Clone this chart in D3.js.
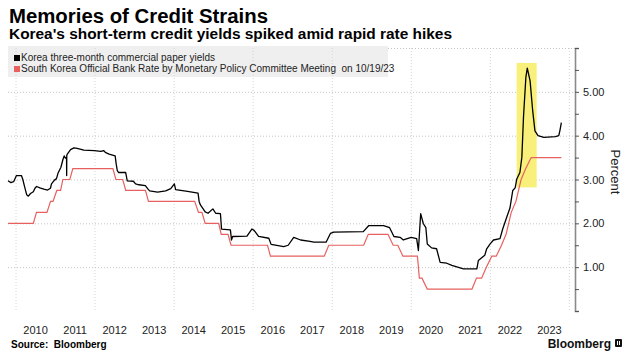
<!DOCTYPE html>
<html>
<head>
<meta charset="utf-8">
<script src="https://cdn.jsdelivr.net/npm/d3@7"></script>
<style>
	body { margin: 0; background: #fff; }
	svg { display: block; }
</style>
</head>
<body>
<div id="chart"></div>
<script>
// Korea three-month commercial paper yields (%)
var cpDates = [
	"2009-10-19", "2009-11-15", "2009-12-10", "2010-01-05", "2010-02-20", "2010-03-05",
	"2010-03-20", "2010-04-10", "2010-04-25", "2010-05-15", "2010-06-10", "2010-06-25",
	"2010-07-10", "2010-08-10", "2010-09-15", "2010-10-20", "2010-11-15", "2010-11-25",
	"2010-12-20", "2011-01-10", "2011-01-25", "2011-02-20", "2011-03-10", "2011-03-22",
	"2011-04-01", "2011-04-13", "2011-04-14", "2011-04-15", "2011-04-20", "2011-05-20",
	"2011-06-20", "2011-07-20", "2011-09-20", "2011-12-25", "2012-02-25", "2012-03-20",
	"2012-04-05", "2012-05-10", "2012-07-05", "2012-07-15", "2012-07-25", "2012-08-05",
	"2012-10-10", "2012-10-25", "2012-12-20", "2013-01-10", "2013-02-10", "2013-04-10",
	"2013-05-05", "2013-05-20", "2013-08-01", "2013-10-15", "2013-12-01", "2014-01-03",
	"2014-01-15", "2014-05-05", "2014-08-10", "2014-08-20", "2014-09-01", "2014-10-15",
	"2014-11-10", "2014-12-25", "2015-01-20", "2015-03-05", "2015-03-15", "2015-06-05",
	"2015-06-15", "2015-06-25", "2015-11-05", "2015-12-20", "2016-01-10", "2016-02-20",
	"2016-05-25", "2016-06-15", "2016-10-10", "2016-11-20", "2017-01-10", "2017-03-15",
	"2017-06-10", "2017-07-15", "2017-11-05", "2017-12-15", "2018-01-15", "2018-10-15",
	"2018-12-05", "2019-04-20", "2019-06-15", "2019-07-25", "2019-09-20", "2019-10-20",
	"2019-12-31", "2020-02-20", "2020-03-07", "2020-03-28", "2020-04-22", "2020-05-15",
	"2020-05-28", "2020-07-07", "2020-08-22", "2020-09-24", "2020-11-24", "2021-01-10",
	"2021-04-27", "2021-08-29", "2021-09-12", "2021-11-10", "2021-11-28", "2021-12-30",
	"2022-01-30", "2022-03-31", "2022-04-25", "2022-06-01", "2022-07-01", "2022-07-27",
	"2022-08-18", "2022-09-02", "2022-10-01", "2022-10-19", "2022-11-03", "2022-11-25",
	"2022-12-08", "2023-01-03", "2023-01-27", "2023-02-17", "2023-03-17", "2023-05-10",
	"2023-08-25", "2023-09-25", "2023-10-05", "2023-10-19"
];
var cpYields = [
	2.97, 2.93, 2.95, 3.09, 3.09, 3.00,
	2.85, 2.65, 2.62, 2.68, 2.72, 2.80,
	2.84, 2.81, 2.78, 2.76, 2.80, 2.90,
	2.98, 3.02, 3.15, 3.28, 3.45, 3.54,
	3.49, 3.50, 3.09, 3.55, 3.58, 3.68,
	3.72, 3.71, 3.67, 3.66, 3.64, 3.66,
	3.62, 3.58, 3.54, 3.35, 3.20, 3.16,
	3.16, 2.97, 2.96, 2.90, 2.88, 2.86,
	2.78, 2.74, 2.71, 2.74, 2.79, 2.90,
	2.77, 2.73, 2.69, 2.50, 2.42, 2.26,
	2.23, 2.33, 2.23, 2.22, 1.87, 1.85,
	1.62, 1.70, 1.71, 1.87, 1.84, 1.70,
	1.66, 1.52, 1.47, 1.50, 1.68, 1.62,
	1.59, 1.57, 1.57, 1.77, 1.80, 1.81,
	1.95, 1.95, 1.90, 1.70, 1.68, 1.62,
	1.68, 1.65, 1.38, 2.22, 1.99, 1.90,
	1.53, 1.44, 1.42, 1.11, 1.09, 1.04,
	0.96, 0.96, 1.15, 1.27, 1.42, 1.53,
	1.62, 1.65, 1.87, 2.14, 2.35, 2.75,
	2.81, 3.01, 3.16, 3.51, 4.42, 5.33,
	5.54, 5.25, 4.57, 4.11, 4.00, 3.96,
	3.98, 4.00, 4.11, 4.30
];

// Bank of Korea base rate (%), at MPC meetings
var rateDates = [
	"2009-10-19", "2010-06-10", "2010-07-09", "2010-10-14", "2010-11-16", "2010-12-09",
	"2011-01-13", "2011-02-17", "2011-03-10", "2011-05-13", "2011-06-10", "2012-06-14",
	"2012-07-12", "2012-09-13", "2012-10-11", "2013-04-11", "2013-05-09", "2014-07-10",
	"2014-08-14", "2014-09-15", "2014-10-15", "2015-02-17", "2015-03-12", "2015-05-14",
	"2015-06-11", "2016-05-13", "2016-06-09", "2017-10-19", "2017-11-30", "2018-10-18",
	"2018-11-30", "2019-05-31", "2019-07-18", "2019-08-30", "2019-10-16", "2020-02-27",
	"2020-03-16", "2020-04-09", "2020-05-28", "2021-07-15", "2021-08-26", "2021-10-12",
	"2021-11-25", "2022-01-14", "2022-02-24", "2022-04-14", "2022-05-26", "2022-07-13",
	"2022-08-25", "2022-10-12", "2022-11-24", "2023-01-13", "2023-10-19"
];
var rateValues = [
	2.00, 2.00, 2.25, 2.25, 2.50, 2.50,
	2.75, 2.75, 3.00, 3.00, 3.25, 3.25,
	3.00, 3.00, 2.75, 2.75, 2.50, 2.50,
	2.25, 2.25, 2.00, 2.00, 1.75, 1.75,
	1.50, 1.50, 1.25, 1.25, 1.50, 1.50,
	1.75, 1.75, 1.50, 1.50, 1.25, 1.25,
	0.75, 0.75, 0.50, 0.50, 0.75, 0.75,
	1.00, 1.25, 1.25, 1.50, 1.75, 2.25,
	2.50, 3.00, 3.25, 3.50, 3.50
];

var yearLabels = [2010, 2011, 2012, 2013, 2014, 2015, 2016, 2017, 2018, 2019, 2020, 2021, 2022, 2023];
var gridYears = [2010, 2012, 2014, 2016, 2018, 2020, 2022, 2024];
var yTicks = [1, 2, 3, 4, 5];
var highlightSpan = ["2022-09-01", "2023-03-05"];
var highlightRange = [2.82, 5.66];

var legendItems = [
	{ label: "Korea three-month commercial paper yields", color: "#000000" },
	{ label: "South Korea Official Bank Rate by Monetary Policy Committee Meeting  on 10/19/23", color: "#e8605f" }
];

var ctx = {
	width: 629,
	height: 361,
	left: 8,
	right: 575,
	top: 48,
	bottom: 311
};

var parseDate = d3.timeParse("%Y-%m-%d");
var cpData = cpDates.map((d, i) => ({ date: parseDate(d), value: cpYields[i] }));
var rateData = rateDates.map((d, i) => ({ date: parseDate(d), value: rateValues[i] }));

var svg = d3.select("#chart")
	.append("svg")
	.attr("width", ctx.width)
	.attr("height", ctx.height)
	.style("font-family", "'Liberation Sans', Arial, sans-serif");

var xscale = d3.scaleTime()
	.domain([parseDate("2009-10-19"), parseDate("2024-02-22")])
	.range([ctx.left, ctx.right]);
var yscale = d3.scaleLinear()
	.domain([0, 6])
	.range([ctx.bottom, ctx.top]);

// titles
svg.append("text")
	.attr("x", 9)
	.attr("y", 23)
	.style("font-size", "20px")
	.style("font-weight", "bold")
	.attr("fill", "#000")
	.attr("textLength", 259)
	.attr("lengthAdjust", "spacingAndGlyphs")
	.text("Memories of Credit Strains");

svg.append("text")
	.attr("x", 9)
	.attr("y", 39)
	.style("font-size", "14px")
	.style("font-weight", "bold")
	.attr("fill", "#000")
	.attr("textLength", 443)
	.attr("lengthAdjust", "spacingAndGlyphs")
	.text("Korea's short-term credit yields spiked amid rapid rate hikes");

// legend background
svg.append("rect")
	.attr("x", ctx.left)
	.attr("y", 46)
	.attr("width", 380)
	.attr("height", 31)
	.attr("fill", "#efefef");

// grid
svg.append("g")
	.selectAll("line")
	.data(gridYears)
	.join("line")
	.attr("x1", (d) => xscale(new Date(d, 0, 1)))
	.attr("x2", (d) => xscale(new Date(d, 0, 1)))
	.attr("y1", ctx.top)
	.attr("y2", ctx.bottom)
	.attr("stroke", "#d4d4d4")
	.attr("stroke-width", 1)
	.attr("stroke-dasharray", "1,2");

svg.append("g")
	.selectAll("line")
	.data(yTicks.concat([6]))
	.join("line")
	.attr("x1", (d) => (d == 6 ? 388 : ctx.left))
	.attr("x2", ctx.right)
	.attr("y1", (d) => yscale(d) + 0.5)
	.attr("y2", (d) => yscale(d) + 0.5)
	.attr("stroke", "#c4c4c4")
	.attr("stroke-width", 1)
	.attr("stroke-dasharray", "1,2");

// highlight box
svg.append("rect")
	.attr("x", xscale(parseDate(highlightSpan[0])))
	.attr("y", yscale(highlightRange[1]))
	.attr("width", xscale(parseDate(highlightSpan[1])) - xscale(parseDate(highlightSpan[0])))
	.attr("height", yscale(highlightRange[0]) - yscale(highlightRange[1]))
	.attr("fill", "#f8f07a");

// legend entries
legendItems.forEach((item, i) => {
	svg.append("rect")
		.attr("x", 14)
		.attr("y", 55 + i * 11)
		.attr("width", 6)
		.attr("height", 6)
		.attr("fill", item.color);
	svg.append("text")
		.attr("x", 21)
		.attr("y", 61 + i * 11)
		.style("font-size", "10px")
		.style("white-space", "pre")
		.attr("fill", "#222")
		.text(item.label);
});

// lines
var line = d3.line()
	.x((d) => xscale(d.date))
	.y((d) => yscale(d.value));

svg.append("path")
	.datum(rateData)
	.attr("d", line)
	.attr("fill", "none")
	.attr("stroke", "#e8605f")
	.attr("stroke-width", 1.2);

svg.append("path")
	.datum(cpData)
	.attr("d", line)
	.attr("fill", "none")
	.attr("stroke", "#000")
	.attr("stroke-width", 1.3)
	.attr("stroke-linejoin", "round");

// right axis
var yAxis = svg.append("g")
	.attr("class", "y-axis")
	.attr("transform", "translate(" + ctx.right + ",0)")
	.call(
		d3.axisRight(yscale)
			.tickValues(d3.range(0, 6.01, 0.5))
			.tickSize(4)
			.tickFormat((d) => (yTicks.indexOf(d) >= 0 ? d3.format(".2f")(d) : ""))
	);
yAxis.select(".domain").attr("stroke", "#8a8a8a").attr("stroke-width", 1.6);
yAxis.selectAll(".tick line").attr("stroke", "#555");
yAxis.selectAll(".tick text")
	.attr("x", 8)
	.style("font-size", "11px")
	.style("font-family", "'Liberation Sans', Arial, sans-serif")
	.attr("fill", "#222");

svg.append("text")
	.attr("transform", "translate(611,172) rotate(90)")
	.attr("text-anchor", "middle")
	.style("font-size", "13px")
	.attr("fill", "#222")
	.text("Percent");

// year labels
svg.append("g")
	.selectAll("text")
	.data(yearLabels)
	.join("text")
	.attr("x", (d) => xscale(new Date(d, 6, 1)))
	.attr("y", 334)
	.attr("text-anchor", "middle")
	.style("font-size", "11px")
	.attr("fill", "#222")
	.text((d) => d);

// footer
svg.append("text")
	.attr("x", 11)
	.attr("y", 348)
	.style("font-size", "10px")
	.style("font-weight", "bold")
	.style("white-space", "pre")
	.attr("fill", "#000")
	.text("Source:  Bloomberg");

svg.append("text")
	.attr("x", 611)
	.attr("y", 348)
	.attr("text-anchor", "end")
	.style("font-size", "12px")
	.style("font-weight", "bold")
	.attr("fill", "#111")
	.text("Bloomberg");

svg.append("rect")
	.attr("x", 615)
	.attr("y", 339)
	.attr("width", 7)
	.attr("height", 8)
	.attr("rx", 1)
	.attr("fill", "#111");
[617, 619].forEach((x) => {
	svg.append("rect")
		.attr("x", x)
		.attr("y", 341)
		.attr("width", 1)
		.attr("height", 4)
		.attr("fill", "#fff");
});
</script>
</body>
</html>
